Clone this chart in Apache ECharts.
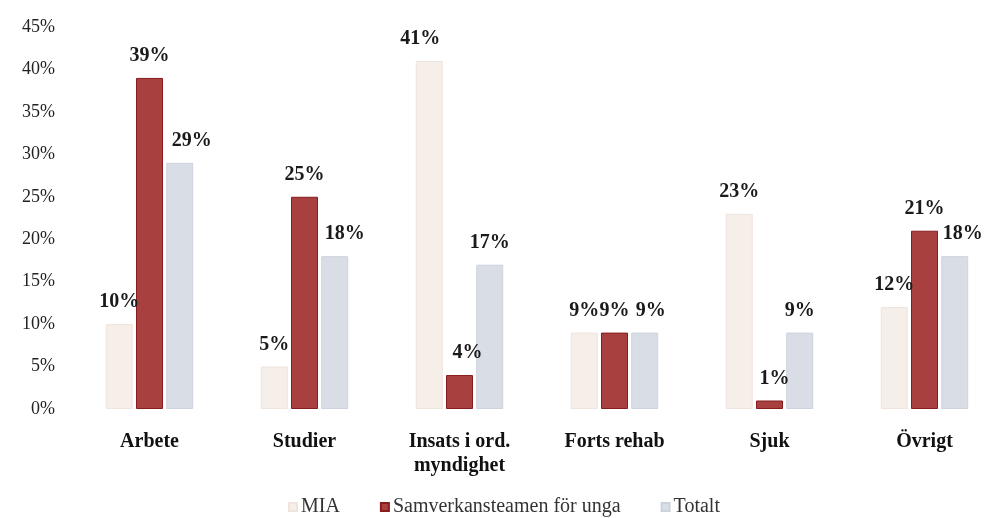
<!DOCTYPE html>
<html lang="sv">
<head>
<meta charset="UTF-8">
<title>Fördelning</title>
<script src="https://cdn.jsdelivr.net/npm/echarts@6/dist/echarts.min.js"></script>
<style>
  html, body { margin: 0; padding: 0; background: #fff; }
  #chart { width: 986px; height: 518px; }
</style>
</head>
<body>
<div id="chart"></div>
<script>
var categories = ['Arbete', 'Studier', 'Insats i ord.\nmyndighet', 'Forts rehab', 'Sjuk', 'Övrigt'];
var seriesNames = ['MIA', 'Samverkansteamen för unga', 'Totalt'];
var mia = [10, 5, 41, 9, 23, 12];
var samverkan = [39, 25, 4, 9, 1, 21];
var totalt = [29, 18, 17, 9, 9, 18];

// horizontal nudges of the value labels, as placed in the original
var miaShift = [0, 0, -9, 0, 0, 0];
var samverkanShift = [0, 0, 8, 0, 5, 0];
var totaltShift = [12, 10, 0, 6, 0, 8];

var serif = '"Liberation Serif", "DejaVu Serif", serif';

function makeSeries(name, data, shifts, color, border) {
    return {
        name: name,
        type: 'bar',
        data: data.map(function (v, i) {
            return { value: v, label: { offset: [shifts[i], 0] } };
        }),
        barWidth: 27,
        barGap: '12%',
        itemStyle: { color: color, borderColor: border, borderWidth: 1 },
        label: {
            show: true,
            position: 'top',
            distance: 12,
            formatter: '{c}%',
            fontFamily: serif,
            fontWeight: 'bold',
            fontSize: 20,
            color: '#1a1a1a'
        }
    };
}

var myChart = echarts.init(document.getElementById('chart'));
var option = {
    animation: false,
    grid: { left: 72, width: 930, top: 27, bottom: 109, outerBoundsMode: 'none' },
    legend: {
        top: 492,
        left: 283,
        itemWidth: 8,
        itemHeight: 8,
        itemGap: 40,
        icon: 'rect',
        textStyle: { fontFamily: serif, fontSize: 20, color: '#333', padding: [0, 0, 0, -1] },
        data: seriesNames
    },
    xAxis: {
        type: 'category',
        data: categories,
        axisLine: { show: false },
        axisTick: { show: false },
        axisLabel: {
            margin: 21,
            interval: 0,
            fontFamily: serif,
            fontWeight: 'bold',
            fontSize: 20,
            color: '#111',
            lineHeight: 24
        }
    },
    yAxis: {
        type: 'value',
        min: 0,
        max: 45,
        interval: 5,
        splitLine: { show: false },
        axisLine: { show: false },
        axisTick: { show: false },
        axisLabel: {
            formatter: '{value}%',
            fontFamily: serif,
            fontSize: 18,
            color: '#222',
            margin: 17
        }
    },
    series: [
        makeSeries(seriesNames[0], mia, miaShift, '#f5eee9', '#efe4de'),
        makeSeries(seriesNames[1], samverkan, samverkanShift, '#a8403f', '#861c1e'),
        makeSeries(seriesNames[2], totalt, totaltShift, '#d9dee6', '#cdd3dc')
    ]
};
myChart.setOption(option);
</script>
</body>
</html>
